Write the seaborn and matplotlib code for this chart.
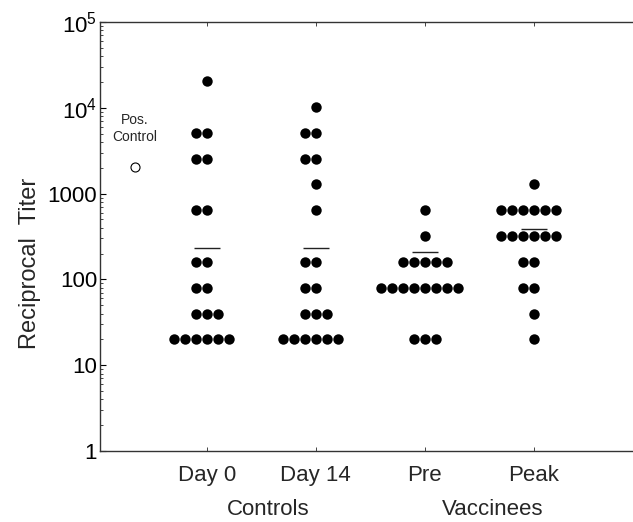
import numpy as np
import pandas as pd
import matplotlib
matplotlib.use("Agg")
import matplotlib.pyplot as plt
import seaborn as sns
from matplotlib.ticker import FixedLocator, LogLocator, NullFormatter

# ---- data ----
categories = ["Day 0", "Day 14", "Pre", "Peak"]
day0 = [20480, 5120, 5120, 2560, 2560, 640, 640, 160, 160, 80, 80,
        40, 40, 40, 20, 20, 20, 20, 20, 20]
day14 = [10240, 5120, 5120, 2560, 2560, 1280, 640, 160, 160, 80, 80,
         40, 40, 40, 20, 20, 20, 20, 20, 20]
pre = [640, 320, 160, 160, 160, 160, 160, 80, 80, 80, 80, 80, 80, 80, 80,
       20, 20, 20]
peak = [1280, 640, 640, 640, 640, 640, 640, 320, 320, 320, 320, 320, 320,
        160, 160, 80, 80, 40, 20]
group_means = [230, 230, 210, 390]
pos_control = 2048
group_labels = ["Controls", "Vaccinees"]
ytick_values = [1, 10, 100, 1000, 1e4, 1e5]
ytick_labels = ["1", "10", "100", "1000", r"$10^4$", r"$10^5$"]

# ---- style ----
sns.set_theme(style="white")
plt.rcParams["font.family"] = ["Liberation Sans", "DejaVu Sans"]
plt.rcParams["mathtext.fontset"] = "custom"
plt.rcParams["mathtext.rm"] = "Liberation Sans"
plt.rcParams["mathtext.it"] = "Liberation Sans"

fig = plt.figure(figsize=(6.33, 5.22), dpi=100)
ax = fig.add_axes([100 / 633, 1 - 451 / 522, 1 - 100 / 633, (451 - 22) / 522])
ax.set_yscale("log")
ax.set_ylim(1, 1e5)
ax.set_xlim(-0.98, 3.91)

df = pd.DataFrame({
    "group": (["Day 0"] * len(day0) + ["Day 14"] * len(day14)
              + ["Pre"] * len(pre) + ["Peak"] * len(peak)),
    "titer": day0 + day14 + pre + peak,
})
sns.swarmplot(data=df, x="group", y="titer", order=categories, color="black",
              size=7.5, linewidth=0, ax=ax)
ax.set_yscale("log")
ax.set_ylim(1, 1e5)
ax.set_xlim(-0.98, 3.91)

# group mean bars
for i, m in enumerate(group_means):
    ax.hlines(m, i - 0.12, i + 0.12, color="#222222", linewidth=1.0, zorder=3)

# positive control
pos_x = -0.66
ax.plot([pos_x], [pos_control], marker="o", markersize=6.5, markerfacecolor="white",
        markeredgecolor="black", markeredgewidth=0.8, linestyle="none")
ax.text(pos_x, 5700, "Pos.\nControl", ha="center", va="center", fontsize=10,
        linespacing=1.25)

# axes styling
for side in ["left", "top", "bottom"]:
    ax.spines[side].set_visible(True)
    ax.spines[side].set_color("#333333")
    ax.spines[side].set_linewidth(1.0)
ax.spines["right"].set_visible(False)

ax.yaxis.set_major_locator(FixedLocator(ytick_values))
ax.set_yticklabels(ytick_labels)
ax.yaxis.set_minor_locator(LogLocator(base=10, subs=np.arange(2, 10)))
ax.yaxis.set_minor_formatter(NullFormatter())
ax.tick_params(axis="y", which="major", direction="in", length=4, width=0.8,
               labelsize=16, pad=2, left=True, colors="black")
ax.tick_params(axis="y", which="minor", direction="in", length=2, width=0.6, left=True)

ax.set_xticks(range(len(categories)))
ax.set_xticklabels(categories)
ax.tick_params(axis="x", which="major", direction="in", length=3, width=0.6,
               labelsize=16, pad=10, bottom=True, top=True)
ax.set_xlabel("")
ax.set_ylabel("")

# group labels
trans = matplotlib.transforms.blended_transform_factory(ax.transData, ax.transAxes)
ax.text(0.56, -0.1375, group_labels[0], transform=trans, ha="center", va="center",
        fontsize=16)
ax.text(2.62, -0.1375, group_labels[1], transform=trans, ha="center", va="center",
        fontsize=16)

fig.text(30 / 633, 1 - 263 / 522, "Reciprocal  Titer", rotation=90, ha="center",
         va="center", fontsize=17)

fig.savefig("out.png", dpi=100, facecolor="white")
